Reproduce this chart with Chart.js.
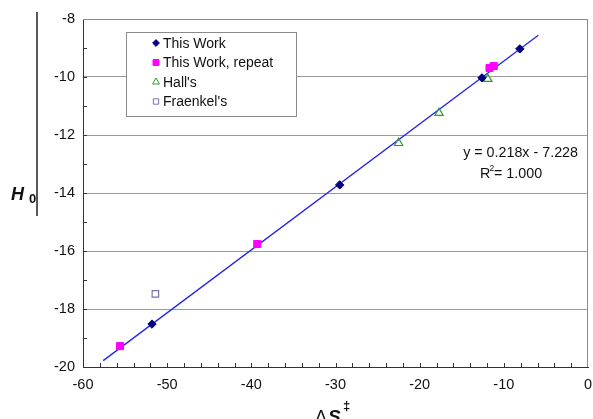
<!DOCTYPE html>
<html>
<head>
<meta charset="utf-8">
<script src="https://cdn.jsdelivr.net/npm/chart.js@4/dist/chart.umd.min.js"></script>
<style>
  html, body { margin: 0; padding: 0; background: #fff; }
  #wrap { width: 593px; height: 419px; position: relative; }
</style>
</head>
<body>
<div id="wrap"><canvas id="chart" width="593" height="419"></canvas></div>
<script>
// values (x = ΔS‡, y = H0)
const thisWorkX = [-51.8, -29.5, -12.6, -8.1];
const thisWorkY = [-18.52, -13.72, -10.03, -9.03];
const repeatX = [-55.6, -39.3, -11.7, -11.2];
const repeatY = [-19.28, -15.76, -9.69, -9.62];
const hallX = [-22.5, -17.7, -11.9];
const hallY = [-12.28, -11.24, -10.07];
const fraenkelX = [-51.4];
const fraenkelY = [-17.48];
const fitX = [-57.6, -5.9];
const fitY = [-19.78, -8.56];
const seriesNames = ['This Work', 'This Work, repeat', "Hall's", "Fraenkel's"];
const fitLabel = ['y = 0.218x - 7.228', '= 1.000'];

const FONT = 'Arial, "Liberation Sans", sans-serif';

function pts(xs, ys) {
    return xs.map((x, i) => ({ x, y: ys[i] }));
}

// inward minor ticks, top/right frame, custom legend and axis titles
const decorPlugin = {
    id: 'decor',
    afterDraw(chart) {
        const { ctx, chartArea: a, scales } = chart;
        ctx.save();

        // frame top/right
        ctx.strokeStyle = '#8a8a8a';
        ctx.lineWidth = 1;
        ctx.beginPath();
        ctx.moveTo(a.left, a.top + 0.5);
        ctx.lineTo(a.right - 0.5, a.top + 0.5);
        ctx.lineTo(a.right - 0.5, a.bottom);
        ctx.stroke();

        // minor ticks
        ctx.strokeStyle = '#333';
        ctx.beginPath();
        for (let v = -19; v <= -9; v++) {
            const y = Math.round(scales.y.getPixelForValue(v)) + 0.5;
            ctx.moveTo(a.left, y);
            ctx.lineTo(a.left + 4, y);
        }
        for (let v = -58; v <= -2; v += 2) {
            const x = Math.round(scales.x.getPixelForValue(v)) + 0.5;
            ctx.moveTo(x, a.bottom);
            ctx.lineTo(x, a.bottom - 4);
        }
        ctx.stroke();

        // legend box
        const lx = 126, ly = 32, lw = 170, lh = 84;
        ctx.fillStyle = '#fff';
        ctx.fillRect(lx, ly, lw, lh);
        ctx.strokeStyle = '#8a8a8a';
        ctx.strokeRect(lx + 0.5, ly + 0.5, lw, lh);
        ctx.font = '14px ' + FONT;
        ctx.textBaseline = 'middle';
        seriesNames.forEach((name, i) => {
            const ds = chart.data.datasets[i];
            const y = 43 + i * 19.5;
            ctx.fillStyle = ds.pointBackgroundColor;
            ctx.strokeStyle = ds.pointBorderColor;
            Chart.helpers.drawPoint(ctx, {
                pointStyle: ds.pointStyle,
                radius: ds.pointRadius - 0.8,
                borderWidth: 1,
                rotation: 0
            }, 156, y);
            ctx.fillStyle = '#111';
            ctx.textAlign = 'left';
            ctx.fillText(name, 163, y + 1);
        });

        // fit equation
        ctx.fillStyle = '#111';
        ctx.font = '14.3px ' + FONT;
        ctx.textBaseline = 'alphabetic';
        ctx.textAlign = 'right';
        ctx.fillText(fitLabel[0], 578, 157);
        ctx.textAlign = 'left';
        ctx.fillText('R', 480, 178);
        ctx.fillText(fitLabel[1], 494, 178);
        ctx.font = '8.5px ' + FONT;
        ctx.fillText('2', 489.5, 171);

        // y title H0
        ctx.font = 'italic bold 18px ' + FONT;
        ctx.fillText('H', 11, 200);
        ctx.font = 'bold 13px ' + FONT;
        ctx.fillText('0', 29, 203);

        // x title ΔS‡
        ctx.font = '18px ' + FONT;
        ctx.fillText('Δ', 315, 423);
        ctx.font = 'italic bold 19px ' + FONT;
        ctx.fillText('S', 328, 423);
        ctx.font = 'bold 13px ' + FONT;
        ctx.fillText('‡', 343, 410);

        // stray vertical rule at the left edge
        ctx.strokeStyle = '#222';
        ctx.lineWidth = 1.5;
        ctx.beginPath();
        ctx.moveTo(37, 12);
        ctx.lineTo(37, 216);
        ctx.stroke();

        ctx.restore();
    }
};

new Chart(document.getElementById('chart'), {
    type: 'scatter',
    data: {
        datasets: [
            {
                label: seriesNames[0],
                data: pts(thisWorkX, thisWorkY),
                pointStyle: 'rectRot',
                pointRadius: 4.2,
                pointBackgroundColor: '#000080',
                pointBorderColor: '#000080',
                pointBorderWidth: 1
            },
            {
                label: seriesNames[1],
                data: pts(repeatX, repeatY),
                pointStyle: 'rect',
                pointRadius: 5,
                pointBackgroundColor: '#ff00ff',
                pointBorderColor: '#ff00ff',
                pointBorderWidth: 1
            },
            {
                label: seriesNames[2],
                data: pts(hallX, hallY),
                pointStyle: 'triangle',
                pointRadius: 4.8,
                pointBackgroundColor: 'rgba(255,255,255,0)',
                pointBorderColor: '#2ca02c',
                pointBorderWidth: 1.2
            },
            {
                label: seriesNames[3],
                data: pts(fraenkelX, fraenkelY),
                pointStyle: 'rect',
                pointRadius: 4.6,
                pointBackgroundColor: '#ffffff',
                pointBorderColor: '#7474aa',
                pointBorderWidth: 1.2
            },
            {
                label: 'fit',
                type: 'line',
                data: pts(fitX, fitY),
                borderColor: '#2222ee',
                borderWidth: 1.3,
                pointRadius: 0,
                showLine: true,
                order: 5
            }
        ]
    },
    options: {
        responsive: false,
        animation: false,
        layout: { autoPadding: false, padding: { left: 0, top: 19, right: 5, bottom: 0 } },
        plugins: {
            legend: { display: false },
            tooltip: { enabled: false }
        },
        scales: {
            x: {
                type: 'linear',
                min: -60,
                max: 0,
                afterFit: s => { s.height = 52; s.paddingLeft = 0; s.paddingRight = 0; },
                ticks: {
                    stepSize: 10,
                    color: '#111',
                    padding: 9,
                    font: { size: 14.5, family: FONT }
                },
                grid: { display: false, drawTicks: false },
                border: { display: true, color: '#333', width: 1 }
            },
            y: {
                type: 'linear',
                min: -20,
                max: -8,
                afterFit: s => { s.width = 83; s.paddingTop = 0; s.paddingBottom = 0; },
                ticks: {
                    stepSize: 2,
                    color: '#111',
                    padding: 8,
                    font: { size: 14.5, family: FONT }
                },
                grid: { color: '#9a9a9a', lineWidth: 1, drawTicks: false },
                border: { display: true, color: '#333', width: 1 }
            }
        }
    },
    plugins: [decorPlugin]
});
</script>
</body>
</html>
